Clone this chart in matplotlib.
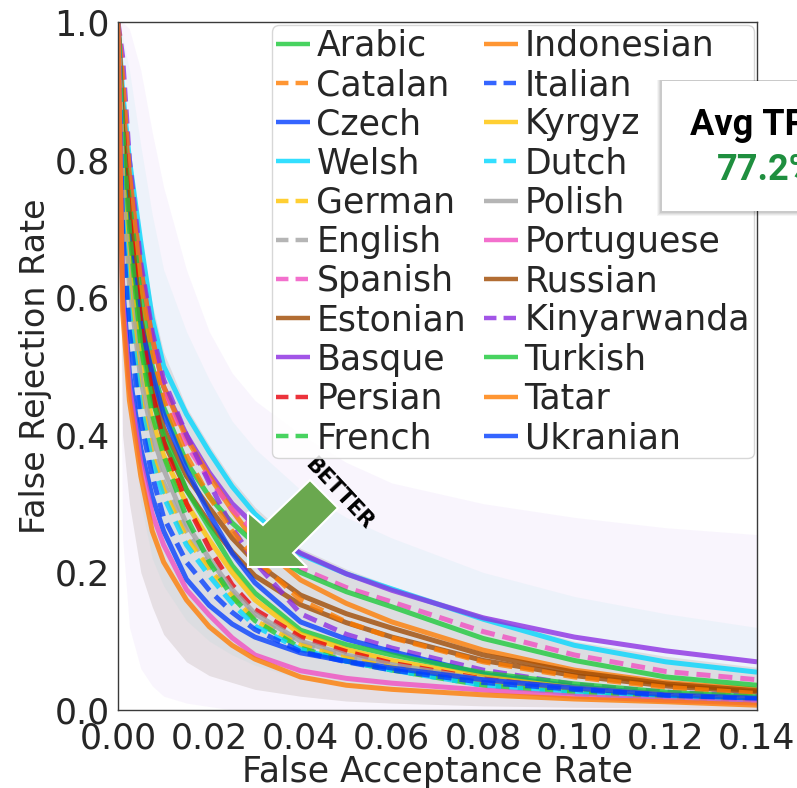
import matplotlib
matplotlib.use("Agg")
import matplotlib.pyplot as plt
from matplotlib.patches import Polygon, Rectangle
import numpy as np

# ---------------------------------------------------------------- data
far = [0, 0.001, 0.0025, 0.005, 0.0075, 0.01, 0.015, 0.02, 0.025, 0.03,
       0.04, 0.05, 0.06, 0.08, 0.10, 0.12, 0.14]

languages = ["Arabic", "Catalan", "Czech", "Welsh", "German", "English",
             "Spanish", "Estonian", "Basque", "Persian", "French",
             "Indonesian", "Italian", "Kyrgyz", "Dutch", "Polish",
             "Portuguese", "Russian", "Kinyarwanda", "Turkish", "Tatar",
             "Ukranian"]

frr = {
    "Welsh":       [1.00, 0.90, 0.80, 0.68, 0.57, 0.50, 0.43, 0.375, 0.325, 0.285, 0.226, 0.198, 0.176, 0.132, 0.094, 0.070, 0.055],
    "Basque":      [1.00, 0.88, 0.77, 0.64, 0.54, 0.47, 0.40, 0.345, 0.300, 0.268, 0.228, 0.198, 0.174, 0.134, 0.106, 0.086, 0.070],
    "Tatar":       [1.00, 0.88, 0.78, 0.64, 0.54, 0.47, 0.395, 0.340, 0.290, 0.245, 0.189, 0.155, 0.128, 0.087, 0.058, 0.040, 0.030],
    "Spanish":     [1.00, 0.87, 0.76, 0.62, 0.53, 0.46, 0.385, 0.335, 0.292, 0.258, 0.206, 0.178, 0.157, 0.114, 0.080, 0.056, 0.044],
    "Turkish":     [1.00, 0.85, 0.74, 0.60, 0.50, 0.44, 0.36, 0.310, 0.272, 0.242, 0.200, 0.172, 0.150, 0.104, 0.072, 0.048, 0.036],
    "Russian":     [1.00, 0.84, 0.72, 0.57, 0.48, 0.41, 0.34, 0.294, 0.250, 0.215, 0.167, 0.140, 0.119, 0.080, 0.055, 0.038, 0.028],
    "Estonian":    [1.00, 0.83, 0.70, 0.55, 0.46, 0.39, 0.32, 0.272, 0.230, 0.195, 0.153, 0.127, 0.106, 0.072, 0.050, 0.035, 0.026],
    "Kinyarwanda": [1.00, 0.95, 0.80, 0.65, 0.55, 0.48, 0.40, 0.330, 0.265, 0.215, 0.140, 0.110, 0.090, 0.058, 0.037, 0.026, 0.020],
    "Catalan":     [1.00, 0.92, 0.78, 0.62, 0.52, 0.45, 0.37, 0.310, 0.260, 0.220, 0.160, 0.128, 0.105, 0.070, 0.048, 0.033, 0.024],
    "Czech":       [1.00, 0.80, 0.68, 0.56, 0.49, 0.43, 0.35, 0.285, 0.228, 0.185, 0.128, 0.103, 0.085, 0.052, 0.034, 0.023, 0.017],
    "Arabic":      [1.00, 0.80, 0.66, 0.53, 0.45, 0.40, 0.32, 0.265, 0.210, 0.170, 0.116, 0.095, 0.080, 0.054, 0.038, 0.026, 0.019],
    "Kyrgyz":      [1.00, 0.78, 0.64, 0.50, 0.42, 0.37, 0.30, 0.247, 0.200, 0.160, 0.110, 0.088, 0.072, 0.048, 0.032, 0.022, 0.016],
    "Persian":     [1.00, 0.86, 0.72, 0.56, 0.46, 0.39, 0.30, 0.235, 0.182, 0.146, 0.106, 0.085, 0.068, 0.045, 0.030, 0.021, 0.015],
    "Polish":      [1.00, 0.76, 0.62, 0.48, 0.40, 0.35, 0.27, 0.220, 0.175, 0.140, 0.100, 0.080, 0.066, 0.044, 0.030, 0.020, 0.015],
    "English":     [1.00, 0.75, 0.60, 0.46, 0.38, 0.33, 0.26, 0.210, 0.170, 0.135, 0.096, 0.077, 0.063, 0.042, 0.029, 0.020, 0.014],
    "German":      [1.00, 0.74, 0.60, 0.45, 0.37, 0.32, 0.25, 0.205, 0.165, 0.130, 0.094, 0.075, 0.062, 0.040, 0.028, 0.019, 0.014],
    "French":      [1.00, 0.85, 0.70, 0.53, 0.43, 0.37, 0.28, 0.215, 0.165, 0.130, 0.090, 0.071, 0.058, 0.036, 0.025, 0.018, 0.013],
    "Dutch":       [1.00, 0.72, 0.58, 0.44, 0.36, 0.31, 0.24, 0.195, 0.155, 0.122, 0.088, 0.071, 0.058, 0.036, 0.024, 0.017, 0.012],
    "Italian":     [1.00, 0.70, 0.55, 0.42, 0.34, 0.28, 0.215, 0.174, 0.142, 0.117, 0.085, 0.070, 0.058, 0.040, 0.030, 0.021, 0.016],
    "Ukranian":    [1.00, 0.62, 0.49, 0.38, 0.31, 0.26, 0.19, 0.152, 0.125, 0.106, 0.083, 0.071, 0.061, 0.044, 0.032, 0.022, 0.017],
    "Portuguese":  [1.00, 0.60, 0.47, 0.36, 0.285, 0.24, 0.175, 0.138, 0.105, 0.080, 0.057, 0.046, 0.039, 0.029, 0.020, 0.014, 0.010],
    "Indonesian":  [1.00, 0.58, 0.45, 0.34, 0.26, 0.215, 0.16, 0.121, 0.094, 0.074, 0.048, 0.036, 0.030, 0.022, 0.016, 0.012, 0.007],
}

# spread of the per-speaker curves
all_hi = [1.00, 1.00, 0.99, 0.93, 0.84, 0.76, 0.64, 0.55, 0.49, 0.45, 0.40, 0.36, 0.33, 0.30, 0.28, 0.265, 0.255]
all_lo = [1.00, 0.25, 0.12, 0.06, 0.035, 0.02, 0.01, 0.005, 0.0, 0.0, 0.0, 0.0, 0.0, 0.0, 0.0, 0.0, 0.0]
welsh_hi = [1.00, 0.98, 0.93, 0.82, 0.72, 0.64, 0.55, 0.48, 0.42, 0.38, 0.32, 0.28, 0.25, 0.20, 0.165, 0.14, 0.12]
welsh_lo = [1.00, 0.60, 0.45, 0.30, 0.22, 0.18, 0.13, 0.10, 0.08, 0.065, 0.045, 0.035, 0.03, 0.02, 0.015, 0.01, 0.01]
core_hi = [1.00, 0.92, 0.82, 0.69, 0.59, 0.52, 0.44, 0.385, 0.335, 0.295, 0.235, 0.205, 0.18, 0.138, 0.10, 0.078, 0.062]
core_lo = [1.00, 0.40, 0.30, 0.20, 0.15, 0.11, 0.07, 0.05, 0.04, 0.03, 0.02, 0.013, 0.01, 0.006, 0.004, 0.003, 0.002]

avg_tpr = "77.2%"

# ---------------------------------------------------------------- styles
bright = {"blue": "#023eff", "orange": "#ff7c00", "green": "#1ac938",
          "red": "#e8000b", "purple": "#8b2be2", "brown": "#9f4800",
          "pink": "#f14cc1", "gray": "#a3a3a3", "yellow": "#ffc400",
          "cyan": "#00d7ff"}
style = {
    "Arabic": ("green", "-"), "Catalan": ("orange", "--"),
    "Czech": ("blue", "-"), "Welsh": ("cyan", "-"),
    "German": ("yellow", "--"), "English": ("gray", "--"),
    "Spanish": ("pink", "--"), "Estonian": ("brown", "-"),
    "Basque": ("purple", "-"), "Persian": ("red", "--"),
    "French": ("green", "--"), "Indonesian": ("orange", "-"),
    "Italian": ("blue", "--"), "Kyrgyz": ("yellow", "-"),
    "Dutch": ("cyan", "--"), "Polish": ("gray", "-"),
    "Portuguese": ("pink", "-"), "Russian": ("brown", "-"),
    "Kinyarwanda": ("purple", "--"), "Turkish": ("green", "-"),
    "Tatar": ("orange", "-"), "Ukranian": ("blue", "-"),
}

text_color = "#262626"
plt.rcParams["font.family"] = ["DejaVu Sans"]
plt.rcParams["text.color"] = text_color

W, H = 797, 788
fig = plt.figure(figsize=(W / 100, H / 100), dpi=100)
ax = fig.add_axes([118 / W, 1 - 710 / H, 639 / W, 688 / H])

# shaded spread of the individual curves
ax.fill_between(far, all_lo, all_hi, color=bright["purple"], alpha=0.045, lw=0, zorder=1)
ax.fill_between(far, welsh_lo, welsh_hi, color="#3cc8d0", alpha=0.06, lw=0, zorder=1)
ax.fill_between(far, core_lo, core_hi, color="#9c8a80", alpha=0.2, lw=0, zorder=1)

# mean curve per language
order = ["Welsh", "Basque", "Tatar", "Spanish", "Turkish", "Russian",
         "Estonian", "Kinyarwanda", "Catalan", "Czech", "Arabic", "Kyrgyz",
         "Persian", "Polish", "English", "German", "French", "Dutch",
         "Italian", "Ukranian", "Portuguese", "Indonesian"]
handles = {}
for lang in order:
    cname, ls = style[lang]
    kw = dict(color=bright[cname], alpha=0.78, lw=3.6, zorder=2,
              solid_capstyle="butt", solid_joinstyle="round")
    if ls == "--":
        kw["dashes"] = (2.8, 1.6)
    (ln,) = ax.plot(far, frr[lang], label=lang, **kw)
    handles[lang] = ln

ax.set_xlim(0, 0.14)
ax.set_ylim(0, 1.0)
xt = np.arange(0, 0.141, 0.02)
yt = np.arange(0, 1.01, 0.2)
ax.set_xticks(xt)
ax.set_xticklabels([f"{v:.2f}" for v in xt])
ax.set_yticks(yt)
ax.set_yticklabels([f"{v:.1f}" for v in yt])
ax.tick_params(axis="both", length=0, labelsize=25, colors=text_color)
ax.tick_params(axis="x", pad=8)
ax.tick_params(axis="y", pad=6)
for s in ax.spines.values():
    s.set_color("#3a3a3a")
    s.set_linewidth(1.0)
ax.set_xlabel("False Acceptance Rate", fontsize=25, color=text_color, labelpad=0)
ax.set_ylabel("False Rejection Rate", fontsize=24, color=text_color, labelpad=2)

# "better" arrow pointing towards the lower-left corner
def axfrac(px, py):
    return ((px - 118) / 639, (710 - py) / 688)

arrow_pts = [axfrac(*p) for p in [(248, 567), (248, 512), (263, 525), (310, 480),
                                   (338, 508), (293, 553), (307, 567)]]
ax.add_patch(Polygon(arrow_pts, closed=True, transform=ax.transAxes,
                     facecolor="#6aa84f", edgecolor="white", lw=1.5, zorder=3))
bx, by = axfrac(339, 494)
ax.text(bx, by, "BETTER", transform=ax.transAxes, rotation=-47,
        rotation_mode="anchor", ha="center", va="center", fontsize=15,
        fontweight="bold", color="black", zorder=3)

leg = ax.legend([handles[l] for l in languages], languages, ncol=2,
                loc="upper right", bbox_to_anchor=(1.0, 1.0),
                fontsize=25, borderaxespad=0.1, borderpad=0.1,
                handlelength=1.0, handletextpad=0.18, columnspacing=0.5,
                labelspacing=0.15, frameon=True, fancybox=True)
leg.get_frame().set_edgecolor("#d0d0d0")
leg.get_frame().set_linewidth(1.0)
leg.get_frame().set_alpha(0.85)
leg.set_zorder(5)
for h in leg.get_lines():
    h.set_linewidth(3.2)
    h.set_alpha(0.8)

# summary card at the right edge
def figfrac(px, py):
    return (px / W, 1 - py / H)

for i, a in enumerate([0.04, 0.05, 0.06, 0.07]):
    off = 5 - i
    x0, y0 = figfrac(662 - off, 211 + off)
    x1, y1 = figfrac(900, 81 - 1)
    fig.patches.append(Rectangle((x0, y0), x1 - x0, y1 - y0, transform=fig.transFigure,
                                 facecolor="black", alpha=a, lw=0, zorder=8))
x0, y0 = figfrac(662, 211)
x1, y1 = figfrac(900, 81)
fig.patches.append(Rectangle((x0, y0), x1 - x0, y1 - y0, transform=fig.transFigure,
                             facecolor="white", edgecolor="none", zorder=9))
tx, ty = figfrac(690, 135)
fig.text(tx, ty, "Avg TPR", ha="left", va="baseline", fontsize=26,
         fontweight="bold", family=["Roboto", "DejaVu Sans"], color="black", zorder=10)
tx, ty = figfrac(717, 180)
fig.text(tx, ty, avg_tpr, ha="left", va="baseline", fontsize=26,
         fontweight="bold", family=["Roboto", "DejaVu Sans"], color="#1f8f3f", zorder=10)

fig.savefig("out.png", dpi=100)
